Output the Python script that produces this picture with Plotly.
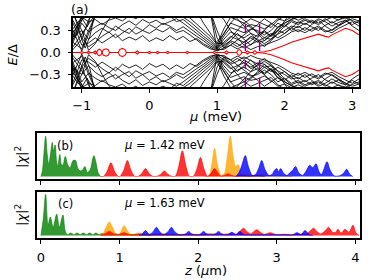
import plotly.graph_objects as go

# ---------------- Panel (a): spectrum vs chemical potential ----------------
mu_grid = [-1.15, -1.0, -0.9, -0.8, -0.7, -0.6, -0.5, -0.4, -0.3, -0.2, -0.1, 0.0, 0.1, 0.2, 0.3,
           0.4, 0.5, 0.6, 0.7, 0.8, 0.9, 1.0, 1.1, 1.2, 1.3, 1.4, 1.5, 1.6, 1.7, 1.8, 1.9, 2.0,
           2.1, 2.2, 2.3, 2.4, 2.5, 2.6, 2.7, 2.8, 2.9, 3.0, 3.1]

band1 = [0.45, 0.10, 0.13, 0.20, 0.13, 0.19, 0.25, 0.16, 0.21, 0.17, 0.23, 0.15, 0.20, 0.16, 0.23,
         0.17, 0.22, 0.15, 0.19, 0.12, 0.07, 0.02, 0.06, 0.10, 0.05, 0.09, 0.04, 0.08, 0.10, 0.13,
         0.17, 0.22, 0.28, 0.31, 0.27, 0.32, 0.36, 0.30, 0.27, 0.33, 0.38, 0.42, 0.36]
band2 = [0.60, 0.20, 0.08, 0.14, 0.22, 0.28, 0.20, 0.27, 0.33, 0.25, 0.30, 0.26, 0.32, 0.28, 0.34,
         0.27, 0.30, 0.24, 0.17, 0.10, 0.05, 0.03, 0.10, 0.16, 0.12, 0.06, 0.11, 0.15, 0.20, 0.18,
         0.25, 0.30, 0.36, 0.34, 0.40, 0.35, 0.30, 0.37, 0.42, 0.37, 0.41, 0.46, 0.43]
band3 = [0.20, 0.30, 0.18, 0.27, 0.33, 0.27, 0.36, 0.30, 0.26, 0.35, 0.30, 0.38, 0.33, 0.40, 0.36,
         0.30, 0.35, 0.28, 0.22, 0.16, 0.09, 0.04, 0.14, 0.22, 0.18, 0.14, 0.20, 0.14, 0.16, 0.24,
         0.30, 0.26, 0.33, 0.42, 0.38, 0.44, 0.40, 0.46, 0.40, 0.45, 0.47, 0.44, 0.40]
band4 = [0.10, 0.40, 0.28, 0.35, 0.40, 0.34, 0.30, 0.38, 0.43, 0.37, 0.45, 0.40, 0.44, 0.38, 0.42,
         0.46, 0.40, 0.33, 0.26, 0.19, 0.12, 0.05, 0.18, 0.28, 0.24, 0.20, 0.26, 0.22, 0.28, 0.22,
         0.35, 0.40, 0.45, 0.48, 0.50, 0.52, 0.50, 0.50, 0.52, 0.50, 0.52, 0.55, 0.55]
band5 = [0.30, 0.48, 0.42, 0.45, 0.38, 0.44, 0.47, 0.43, 0.50, 0.46, 0.52, 0.48, 0.50, 0.46, 0.50,
         0.42, 0.45, 0.38, 0.30, 0.22, 0.15, 0.06, 0.22, 0.34, 0.30, 0.27, 0.32, 0.30, 0.24, 0.30,
         0.40, 0.35, 0.42, 0.38, 0.44, 0.40, 0.46, 0.42, 0.36, 0.41, 0.44, 0.38, 0.43]
band6 = [0.05, 0.25, 0.40, 0.52, 0.56, 0.56, 0.56, 0.56, 0.56, 0.56, 0.56, 0.56, 0.56, 0.56, 0.56,
         0.52, 0.48, 0.42, 0.34, 0.26, 0.18, 0.08, 0.26, 0.40, 0.36, 0.33, 0.38, 0.36, 0.32, 0.38,
         0.46, 0.43, 0.48, 0.44, 0.48, 0.52, 0.56, 0.56, 0.56, 0.56, 0.56, 0.56, 0.56]
band7 = [0.15, 0.05, 0.30, 0.50, 0.56, 0.56, 0.56, 0.56, 0.56, 0.56, 0.56, 0.56, 0.56, 0.56, 0.56,
         0.56, 0.55, 0.47, 0.39, 0.31, 0.22, 0.11, 0.32, 0.48, 0.44, 0.40, 0.46, 0.42, 0.38, 0.34,
         0.44, 0.50, 0.56, 0.56, 0.56, 0.56, 0.56, 0.56, 0.56, 0.56, 0.56, 0.56, 0.56]
band8 = [0.02, 0.18, 0.45, 0.56, 0.56, 0.56, 0.56, 0.56, 0.56, 0.56, 0.56, 0.56, 0.56, 0.56, 0.56,
         0.56, 0.56, 0.56, 0.56, 0.40, 0.26, 0.13, 0.12, 0.20, 0.30, 0.40, 0.34, 0.28, 0.20, 0.26,
         0.20, 0.26, 0.34, 0.28, 0.34, 0.29, 0.34, 0.28, 0.31, 0.38, 0.44, 0.36, 0.30]
band9 = [0.35, 0.02, 0.25, 0.50, 0.56, 0.56, 0.56, 0.56, 0.56, 0.56, 0.56, 0.56, 0.56, 0.56, 0.56,
         0.56, 0.56, 0.56, 0.56, 0.56, 0.56, 0.56, 0.56, 0.56, 0.46, 0.36, 0.26, 0.16, 0.08, 0.16,
         0.26, 0.36, 0.44, 0.40, 0.46, 0.42, 0.38, 0.44, 0.48, 0.44, 0.50, 0.56, 0.56]
band10 = [0.25, 0.45, 0.56, 0.56, 0.56, 0.56, 0.56, 0.56, 0.56, 0.56, 0.56, 0.56, 0.56, 0.56, 0.56,
          0.56, 0.56, 0.56, 0.56, 0.56, 0.56, 0.04, 0.04, 0.10, 0.17, 0.24, 0.30, 0.38, 0.46, 0.40,
          0.34, 0.40, 0.46, 0.52, 0.56, 0.56, 0.56, 0.56, 0.56, 0.56, 0.56, 0.56, 0.56]
band11 = [0.56, 0.30, 0.03, 0.12, 0.30, 0.45, 0.56, 0.56, 0.56, 0.56, 0.56, 0.56, 0.56, 0.56, 0.56,
          0.56, 0.56, 0.56, 0.56, 0.56, 0.56, 0.20, 0.06, 0.14, 0.08, 0.14, 0.22, 0.18, 0.12, 0.18,
          0.30, 0.38, 0.30, 0.36, 0.30, 0.38, 0.44, 0.36, 0.30, 0.36, 0.42, 0.50, 0.56]
band12 = [0.12, 0.50, 0.56, 0.56, 0.56, 0.56, 0.56, 0.56, 0.56, 0.56, 0.56, 0.56, 0.56, 0.56, 0.56,
          0.56, 0.56, 0.56, 0.56, 0.56, 0.56, 0.56, 0.45, 0.30, 0.20, 0.10, 0.16, 0.24, 0.30, 0.22,
          0.30, 0.44, 0.56, 0.56, 0.56, 0.56, 0.56, 0.56, 0.56, 0.56, 0.56, 0.56, 0.56]
bands = [band1, band2, band3, band4, band5, band6, band7, band8, band9, band10, band11, band12]

# short extra branches in the dense regions near mu = -1 and mu = 1..1.8
extra1_mu = [-1.15, -1.05, -0.95, -0.88, -0.8]
extra1_E = [0.47, 0.30, 0.06, 0.22, 0.56]
extra2_mu = [-1.15, -1.08, -1.0, -0.92, -0.85]
extra2_E = [0.15, 0.35, 0.47, 0.35, 0.56]
extra3_mu = [-1.15, -1.1, -1.02, -0.95]
extra3_E = [0.30, 0.20, 0.40, 0.56]
extra4_mu = [0.9, 1.0, 1.1, 1.2, 1.3, 1.4, 1.5, 1.6, 1.7, 1.8]
extra4_E = [0.56, 0.30, 0.08, 0.16, 0.26, 0.18, 0.10, 0.20, 0.30, 0.40]
extra5_mu = [1.0, 1.1, 1.2, 1.3, 1.4, 1.5, 1.6, 1.7, 1.8, 1.9]
extra5_E = [0.15, 0.25, 0.40, 0.50, 0.44, 0.36, 0.26, 0.16, 0.24, 0.34]
extras = [(extra1_mu, extra1_E), (extra2_mu, extra2_E), (extra3_mu, extra3_E),
          (extra4_mu, extra4_E), (extra5_mu, extra5_E)]

red_mu = [-1.15, -1.03, -1.0, -0.97, -0.93, -0.9, -0.87, -0.83, -0.8, -0.78, -0.765, -0.74, -0.715,
          -0.70, -0.685, -0.64, -0.605, -0.59, -0.46, -0.44, -0.40, -0.36, -0.34, -0.21, -0.18,
          -0.15, -0.025, 0.0, 0.025, 0.095, 0.12, 0.145, 0.245, 0.27, 0.295, 0.535, 0.56, 0.585,
          0.935, 0.96, 0.985, 1.11, 1.14, 1.17, 1.29, 1.31, 1.33, 1.35, 1.37, 1.42, 1.45, 1.48,
          1.53, 1.56, 1.59, 1.63, 1.7, 1.8, 1.9, 2.0, 2.1, 2.2, 2.3, 2.4, 2.5, 2.6, 2.65, 2.7,
          2.8, 2.9, 3.0, 3.1]
red_E = [0.0, 0.0, 0.012, 0.0, 0.0, 0.015, 0.0, 0.0, 0.02, 0.0, 0.03, 0.045, 0.03,
         0.0, 0.035, 0.05, 0.035, 0.0, 0.0, 0.04, 0.055, 0.04, 0.0, 0.0, 0.02,
         0.0, 0.0, 0.015, 0.0, 0.0, 0.015, 0.0, 0.0, 0.015, 0.0, 0.0, 0.015, 0.0,
         0.0, 0.015, 0.0, 0.0, 0.02, 0.0, 0.0, 0.03, 0.04, 0.03, 0.0, 0.0, 0.02, 0.0,
         0.0, 0.025, 0.0, 0.0, 0.01, 0.03, 0.06, 0.10, 0.14, 0.17, 0.20, 0.23, 0.25, 0.22, 0.21, 0.24,
         0.29, 0.33, 0.30, 0.24]

dashed_mu = [1.42, 1.63]
a_xticks = [-1, 0, 1, 2, 3]
a_yticks = [-0.3, 0.0, 0.3]
a_yticktext = ["\u22120.3", "0.0", "0.3"]
z_ticks = [0, 1, 2, 3, 4]

# ---------------- Panel (b): mu = 1.42 meV ----------------
b_green_z = [0.0, 0.02, 0.04, 0.06, 0.08, 0.10, 0.125, 0.145, 0.16, 0.18, 0.20, 0.215, 0.24, 0.26,
             0.28, 0.31, 0.34, 0.37, 0.41, 0.44, 0.47, 0.50, 0.53, 0.56, 0.59, 0.63, 0.66, 0.675,
             0.70, 0.73, 0.76]
b_green_y = [0.0, 0.15, 0.6, 1.0, 0.55, 0.3, 0.6, 0.85, 0.62, 0.78, 0.35, 0.25, 0.55, 0.3,
             0.28, 0.5, 0.3, 0.22, 0.4, 0.4, 0.2, 0.14, 0.16, 0.25, 0.1, 0.18, 0.45, 0.52,
             0.35, 0.08, 0.0]
b_red_z = [0.76, 0.80, 0.845, 0.89, 0.935, 0.98, 1.01, 1.055, 1.10, 1.145, 1.19, 1.24, 1.285, 1.33,
           1.375, 1.42, 1.48, 1.525, 1.57, 1.615, 1.66, 1.71, 1.755, 1.80, 1.845, 1.89, 1.94,
           1.985, 2.03, 2.075, 2.12, 2.165, 2.21, 2.255, 2.29, 2.335, 2.38, 2.425, 2.47, 2.55,
           2.63, 2.75, 2.85]
b_red_y = [0.0, 0.01, 0.14, 0.34, 0.14, 0.01, 0.01, 0.16, 0.40, 0.16, 0.01, 0.01, 0.08, 0.20,
           0.08, 0.01, 0.01, 0.06, 0.14, 0.06, 0.01, 0.01, 0.26, 0.64, 0.26, 0.01, 0.01,
           0.19, 0.47, 0.19, 0.01, 0.08, 0.20, 0.08, 0.01, 0.03, 0.07, 0.03, 0.01, 0.04,
           0.01, 0.03, 0.0]
b_orange_z = [2.08, 2.14, 2.175, 2.21, 2.245, 2.29, 2.33, 2.37, 2.41, 2.45, 2.48, 2.51, 2.55, 2.6,
              2.7, 2.8, 2.9, 3.0, 3.2]
b_orange_y = [0.0, 0.03, 0.3, 0.70, 0.3, 0.04, 0.06, 0.45, 1.0, 0.45, 0.25, 0.3, 0.05, 0.05,
              0.03, 0.05, 0.03, 0.03, 0.0]
b_blue_z = [2.48, 2.52, 2.56, 2.6, 2.64, 2.69, 2.73, 2.77, 2.81, 2.85, 2.9, 2.94, 2.97, 3.0, 3.025,
            3.05, 3.09, 3.13, 3.17, 3.2, 3.24, 3.28, 3.33, 3.37, 3.42, 3.46, 3.5, 3.54, 3.57, 3.60,
            3.64, 3.68, 3.73, 3.8, 3.85, 3.89, 3.93, 3.97]
b_blue_y = [0.0, 0.1, 0.3, 0.52, 0.25, 0.03, 0.05, 0.2, 0.40, 0.18, 0.03, 0.05, 0.15, 0.2, 0.12,
            0.2, 0.08, 0.03, 0.1, 0.15, 0.25, 0.1, 0.03, 0.12, 0.28, 0.22, 0.32, 0.12, 0.05, 0.18,
            0.37, 0.16, 0.02, 0.02, 0.08, 0.18, 0.06, 0.0]

# ---------------- Panel (c): mu = 1.63 meV ----------------
c_green_z = [0.0, 0.03, 0.06, 0.09, 0.12, 0.155, 0.2, 0.235, 0.28, 0.31, 0.34, 0.38, 0.42, 0.46,
             0.5, 0.54, 0.58, 0.62, 0.66, 0.70, 0.74, 0.78, 0.82, 0.86, 0.9, 0.95, 1.0, 1.1, 1.2,
             1.3, 1.4]
c_green_y = [0.0, 0.4, 1.0, 0.25, 0.45, 0.2, 0.52, 0.2, 0.5, 0.1, 0.02, 0.06, 0.02, 0.06,
             0.02, 0.06, 0.02, 0.06, 0.02, 0.06, 0.02, 0.05, 0.02, 0.05, 0.02, 0.04, 0.02, 0.03, 0.02,
             0.02, 0.0]
c_orange_z = [0.72, 0.78, 0.83, 0.87, 0.91, 0.96, 1.0, 1.03, 1.06, 1.1, 1.15, 1.25, 1.35, 1.5, 1.7,
              1.9, 2.1]
c_orange_y = [0.0, 0.02, 0.2, 0.33, 0.2, 0.03, 0.04, 0.15, 0.24, 0.12, 0.02, 0.05, 0.02, 0.03, 0.02,
              0.02, 0.0]
c_red_z = [0.76, 0.82, 0.87, 0.92, 0.98, 1.06, 1.13, 1.25, 1.4, 1.55, 1.7, 1.85, 2.0, 2.15, 2.3,
           2.42, 2.49, 2.54, 2.58, 2.62, 2.67, 2.71, 2.75, 2.79, 2.84, 2.92, 3.0, 3.1, 3.2, 3.3,
           3.38, 3.43, 3.47, 3.51, 3.56, 3.62, 3.66, 3.71, 3.75, 3.78, 3.82, 3.87, 3.92, 3.97, 4.01,
           4.05]
c_red_y = [0.0, 0.05, 0.1, 0.05, 0.02, 0.07, 0.02, 0.04, 0.02, 0.04, 0.02, 0.03, 0.02, 0.04, 0.03,
           0.04, 0.03, 0.12, 0.18, 0.1, 0.04, 0.1, 0.14, 0.08, 0.03, 0.07, 0.02, 0.03, 0.02, 0.04,
           0.04, 0.12, 0.18, 0.1, 0.04, 0.12, 0.2, 0.08, 0.08, 0.15, 0.06, 0.15, 0.08, 0.25, 0.06,
           0.0]
c_blue_z = [1.25, 1.29, 1.33, 1.38, 1.43, 1.47, 1.51, 1.56, 1.62, 1.66, 1.70, 1.76, 1.84, 1.88, 1.92,
            2.0, 2.03, 2.07, 2.11, 2.18, 2.22, 2.26, 2.30, 2.37, 2.43, 2.48, 2.53, 2.58, 2.7, 2.9,
            3.1, 3.2, 3.26, 3.31, 3.36, 3.41, 3.46]
c_blue_y = [0.0, 0.04, 0.12, 0.03, 0.1, 0.2, 0.1, 0.02, 0.1, 0.2, 0.1, 0.02, 0.04, 0.1, 0.04,
            0.02, 0.04, 0.1, 0.04, 0.02, 0.04, 0.1, 0.04, 0.02, 0.08, 0.03, 0.1, 0.03, 0.02, 0.02,
            0.02, 0.02, 0.07, 0.02, 0.12, 0.03, 0.0]

FONT = "DejaVu Sans"
W, H = 374, 280

fig = go.Figure()

LW = 0.85
for b in bands:
    fig.add_trace(go.Scatter(x=mu_grid, y=b, mode="lines", line=dict(color="black", width=LW),
                             xaxis="x", yaxis="y", showlegend=False, hoverinfo="skip"))
    fig.add_trace(go.Scatter(x=mu_grid, y=[-v for v in b], mode="lines",
                             line=dict(color="black", width=LW),
                             xaxis="x", yaxis="y", showlegend=False, hoverinfo="skip"))
for m, e in extras:
    fig.add_trace(go.Scatter(x=m, y=e, mode="lines", line=dict(color="black", width=LW),
                             xaxis="x", yaxis="y", showlegend=False, hoverinfo="skip"))
    fig.add_trace(go.Scatter(x=m, y=[-v for v in e], mode="lines",
                             line=dict(color="black", width=LW),
                             xaxis="x", yaxis="y", showlegend=False, hoverinfo="skip"))

fig.add_trace(go.Scatter(x=red_mu, y=red_E, mode="lines", line=dict(color="red", width=1.1),
                         xaxis="x", yaxis="y", showlegend=False))
fig.add_trace(go.Scatter(x=red_mu, y=[-v for v in red_E], mode="lines",
                         line=dict(color="red", width=1.1),
                         xaxis="x", yaxis="y", showlegend=False))


def area(z, y, color, ax, ay):
    fig.add_trace(go.Scatter(x=z, y=y, mode="lines", fill="tozeroy",
                             line=dict(color=color, width=0.8, shape="spline", smoothing=0.9),
                             fillcolor=color, xaxis=ax, yaxis=ay, showlegend=False))


GREEN = "rgba(0,128,0,0.8)"
RED = "rgba(255,0,0,0.8)"
ORANGE = "rgba(255,165,0,0.8)"
BLUE = "rgba(0,0,255,0.8)"

area(b_green_z, b_green_y, GREEN, "x2", "y2")
area(b_orange_z, b_orange_y, ORANGE, "x2", "y2")
area(b_red_z, b_red_y, RED, "x2", "y2")
area(b_blue_z, b_blue_y, BLUE, "x2", "y2")

area(c_green_z, c_green_y, GREEN, "x3", "y3")
area(c_orange_z, c_orange_y, ORANGE, "x3", "y3")
area(c_red_z, c_red_y, RED, "x3", "y3")
area(c_blue_z, c_blue_y, BLUE, "x3", "y3")


def px_x(p):
    return p / W


def px_y(p):
    return 1 - p / H


frame = dict(showline=True, mirror=True, linecolor="black", linewidth=2, showgrid=False,
             zeroline=False, ticks="outside", ticklen=3.5, tickwidth=1, tickcolor="black",
             tickfont=dict(family=FONT, size=13, color="black"))

shapes = []
for m in dashed_mu:
    shapes.append(dict(type="line", xref="x", yref="y domain", x0=m, x1=m, y0=0, y1=1,
                       line=dict(color="#800080", width=1.4, dash="dash")))

ann = []


def text(t, x, y, size=13, angle=0):
    ann.append(dict(text=t, x=px_x(x), y=px_y(y), xref="paper", yref="paper", showarrow=False,
                    xanchor="center", yanchor="middle", textangle=angle,
                    font=dict(family=FONT, size=size, color="black")))


text("(a)", 79, 9, 12.5)
text("<i>E</i>/Δ", 12.5, 55, 13, -90)
text("<i>μ</i> (meV)", 215, 116, 13)
text("|<i>χ</i>|<sup>2</sup>", 21, 157, 13, -90)
text("|<i>χ</i>|<sup>2</sup>", 21, 215, 13, -90)
text("(b)", 65, 146, 11.5)
text("<i>μ</i> = 1.42 meV", 164, 145, 11.5)
text("(c)", 65, 204, 11.5)
text("<i>μ</i> = 1.63 meV", 164, 203, 11.5)
text("<i>z</i> (<i>μ</i>m)", 205, 270, 13)

fig.update_layout(
    width=W, height=H, margin=dict(l=0, r=0, t=0, b=0),
    paper_bgcolor="white", plot_bgcolor="white", showlegend=False,
    xaxis=dict(frame, domain=[px_x(73), px_x(359)], range=[-1.13, 3.1],
               tickvals=a_xticks, anchor="y", ticklabelstandoff=2),
    yaxis=dict(frame, domain=[px_y(87), px_y(18)], range=[-0.47, 0.47],
               tickvals=a_yticks, ticktext=a_yticktext, anchor="x", ticklabelstandoff=4),
    xaxis2=dict(frame, domain=[px_x(37), px_x(360)], range=[-0.05, 4.06],
                tickvals=z_ticks, showticklabels=False, anchor="y2"),
    yaxis2=dict(frame, domain=[px_y(179), px_y(133)], range=[-0.06, 1.08],
                ticks="", showticklabels=False, anchor="x2"),
    xaxis3=dict(frame, domain=[px_x(37), px_x(360)], range=[-0.05, 4.06],
                tickvals=z_ticks, anchor="y3", ticklabelstandoff=3),
    yaxis3=dict(frame, domain=[px_y(238), px_y(192)], range=[-0.06, 1.06],
                ticks="", showticklabels=False, anchor="x3"),
    shapes=shapes, annotations=ann,
)

# remove the default 8px page margin so the figure fills the 374x280 window exactly
fig.write_html("out.html", config={"displayModeBar": False},
               post_script="document.body.style.margin='0px';")
